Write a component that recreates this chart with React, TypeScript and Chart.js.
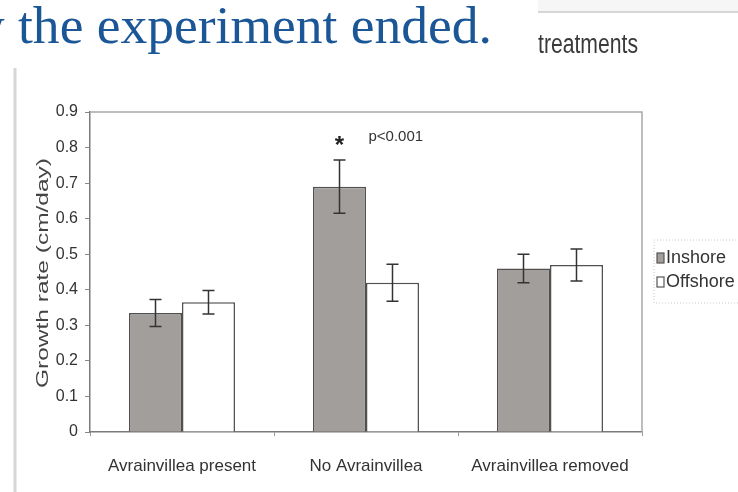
import React, { useEffect, useRef } from "react";
import { Chart, registerables } from "chart.js";

Chart.register(...registerables);

// ---- data ----
const categories = ["Avrainvillea present", "No Avrainvillea", "Avrainvillea removed"];
const seriesNames = ["Inshore", "Offshore"];
const inshoreValues = [0.335, 0.69, 0.46];
const offshoreValues = [0.365, 0.42, 0.47];
const inshoreErrors = [0.038, 0.075, 0.04];
const offshoreErrors = [0.033, 0.052, 0.045];
const yTickLabels = ["0", "0.1", "0.2", "0.3", "0.4", "0.5", "0.6", "0.7", "0.8", "0.9"];
const yAxisTitle = "Growth rate (cm/day)";
const slideTitle = "w the experiment ended.";
const slideTitleTail = "the experiment ended.";
const sideText = "treatments";
const starMark = "*";
const pNote = "p<0.001";
const starCategory = 1;
const starSeries = 0;

const errorsBySeries = [inshoreErrors, offshoreErrors];
const FONT = "'Liberation Sans', Arial, sans-serif";

const decorPlugin = {
  id: "decor",
  beforeDraw(chart: any) {
    const ctx = chart.ctx;
    ctx.save();
    ctx.fillStyle = "#ffffff";
    ctx.fillRect(0, 0, chart.width, chart.height);
    // left vertical slide line
    ctx.strokeStyle = "#d6d6d6";
    ctx.lineWidth = 3;
    ctx.beginPath();
    ctx.moveTo(15, 68);
    ctx.lineTo(15, chart.height);
    ctx.stroke();
    // top-right band and line
    ctx.fillStyle = "#f6f6f6";
    ctx.fillRect(538, 0, 200, 11);
    ctx.strokeStyle = "#c8c8c8";
    ctx.lineWidth = 1.5;
    ctx.beginPath();
    ctx.moveTo(538, 12);
    ctx.lineTo(738, 12);
    ctx.stroke();
    // slide title (fitted)
    ctx.font = "52px 'Liberation Serif', 'DejaVu Serif', serif";
    const tailW = ctx.measureText(slideTitleTail).width;
    const sx = (492 - 18) / tailW;
    ctx.save();
    ctx.translate(492, 43);
    ctx.scale(sx, 1);
    ctx.fillStyle = "#1b5797";
    ctx.textAlign = "right";
    ctx.textBaseline = "alphabetic";
    ctx.fillText(slideTitle, 0, 0);
    ctx.restore();
    // side text
    ctx.font = "27px " + FONT;
    const tw = ctx.measureText(sideText).width;
    ctx.save();
    ctx.translate(538, 53);
    ctx.scale(100 / tw, 1);
    ctx.fillStyle = "#3a3a3a";
    ctx.textAlign = "left";
    ctx.fillText(sideText, 0, 0);
    ctx.restore();
    ctx.restore();
  },
  afterDraw(chart: any) {
    const ctx = chart.ctx;
    const area = chart.chartArea;
    const yScale = chart.scales.y;
    ctx.save();
    // plot border top/right
    ctx.strokeStyle = "#a8a8a8";
    ctx.lineWidth = 1.5;
    ctx.beginPath();
    ctx.moveTo(area.left, area.top);
    ctx.lineTo(area.right, area.top);
    ctx.lineTo(area.right, area.bottom);
    ctx.stroke();

    // error bars
    ctx.strokeStyle = "#333333";
    ctx.lineWidth = 1.5;
    chart.data.datasets.forEach((ds: any, i: number) => {
      const meta = chart.getDatasetMeta(i);
      meta.data.forEach((bar: any, j: number) => {
        const v = ds.data[j];
        const e = errorsBySeries[i][j];
        const yTop = yScale.getPixelForValue(v + e);
        const yBot = yScale.getPixelForValue(v - e);
        const x = bar.x;
        ctx.beginPath();
        ctx.moveTo(x, yTop);
        ctx.lineTo(x, yBot);
        ctx.moveTo(x - 6, yTop);
        ctx.lineTo(x + 6, yTop);
        ctx.moveTo(x - 6, yBot);
        ctx.lineTo(x + 6, yBot);
        ctx.stroke();
      });
    });

    // significance annotation
    const sBar = chart.getDatasetMeta(starSeries).data[starCategory];
    const sTop = yScale.getPixelForValue(
      chart.data.datasets[starSeries].data[starCategory] + errorsBySeries[starSeries][starCategory]
    );
    ctx.fillStyle = "#222";
    ctx.font = "bold 24px " + FONT;
    ctx.textAlign = "center";
    ctx.textBaseline = "middle";
    ctx.fillText(starMark, sBar.x, sTop - 14);
    ctx.font = "15px " + FONT;
    ctx.textAlign = "left";
    ctx.fillStyle = "#333";
    ctx.fillText(pNote, sBar.x + 29, sTop - 23);

    // y axis title (stretched along its length)
    ctx.save();
    ctx.translate(44, (area.top + area.bottom) / 2 + 1);
    ctx.rotate(-Math.PI / 2);
    ctx.font = "16px " + FONT;
    const w0 = ctx.measureText(yAxisTitle).width;
    ctx.scale(230 / w0, 1);
    ctx.fillStyle = "#444";
    ctx.textAlign = "center";
    ctx.textBaseline = "middle";
    ctx.fillText(yAxisTitle, 0, 0);
    ctx.restore();

    // legend
    const lx = area.right + 13;
    ctx.setLineDash([1, 2]);
    ctx.strokeStyle = "#c8c8c8";
    ctx.lineWidth = 1;
    ctx.strokeRect(lx - 1, 240, 120, 63);
    ctx.setLineDash([]);
    chart.data.datasets.forEach((ds: any, i: number) => {
      const yc = 258 + i * 24;
      ctx.fillStyle = ds.backgroundColor;
      ctx.fillRect(lx + 2, yc - 5, 7, 10);
      ctx.strokeStyle = "#555";
      ctx.lineWidth = 1.2;
      ctx.strokeRect(lx + 2, yc - 5, 7, 10);
      ctx.fillStyle = "#333";
      ctx.font = "18px " + FONT;
      ctx.textAlign = "left";
      ctx.textBaseline = "middle";
      ctx.fillText(ds.label, lx + 11, yc);
    });
    ctx.restore();
  },
};

export default function App() {
  const ref = useRef<HTMLCanvasElement | null>(null);
  useEffect(() => {
    if (!ref.current) return;
    const chart = new Chart(ref.current, {
      type: "bar",
      data: {
        labels: categories,
        datasets: [
          {
            label: seriesNames[0],
            data: inshoreValues,
            backgroundColor: "#a29e9c",
            borderColor: "#505050",
            borderWidth: 1.5,
            categoryPercentage: 0.576,
            barPercentage: 1,
          },
          {
            label: seriesNames[1],
            data: offshoreValues,
            backgroundColor: "#ffffff",
            borderColor: "#505050",
            borderWidth: 1.5,
            categoryPercentage: 0.576,
            barPercentage: 1,
          },
        ],
      },
      options: {
        responsive: false,
        animation: false,
        layout: { padding: { left: 0, right: 96, top: 112, bottom: 0 } },
        plugins: {
          legend: { display: false },
          tooltip: { enabled: false },
          title: { display: false },
        },
        scales: {
          x: {
            grid: { display: true, drawOnChartArea: false, drawTicks: true, tickLength: 4, color: "#999" },
            border: { display: true, color: "#7a7a7a", width: 1.5 },
            ticks: {
              color: "#333",
              font: { family: FONT, size: 17 },
              padding: 20,
              maxRotation: 0,
              autoSkip: false,
            },
            afterFit: (s: any) => {
              s.height = 60;
            },
          },
          y: {
            min: 0,
            max: 0.9,
            grid: { display: true, drawOnChartArea: false, drawTicks: true, tickLength: 5, color: "#888" },
            border: { display: true, color: "#7a7a7a", width: 1.5 },
            ticks: {
              stepSize: 0.1,
              color: "#333",
              font: { family: FONT, size: 16 },
              padding: 7,
              callback: (v: any, i: number) => yTickLabels[i] ?? String(v),
            },
            afterFit: (s: any) => {
              s.width = 90;
            },
          },
        },
      },
      plugins: [decorPlugin],
    });
    return () => chart.destroy();
  }, []);
  return (
    <div style={{ position: "absolute", left: 0, top: 0, width: 738, height: 492 }}>
      <canvas ref={ref} width={738} height={492} />
    </div>
  );
}
